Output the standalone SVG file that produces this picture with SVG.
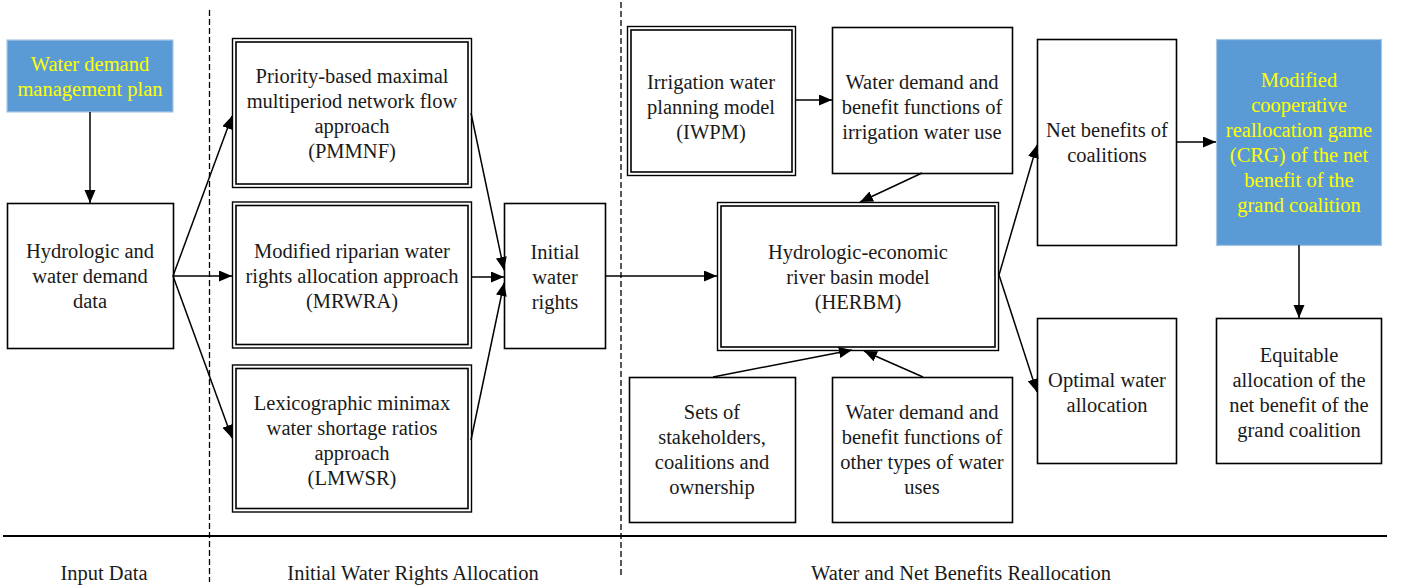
<svg xmlns="http://www.w3.org/2000/svg" width="1401" height="586" viewBox="0 0 1401 586">
<style>
.t{font-family:"Liberation Serif","Times New Roman",serif;font-size:20.5px;fill:#1a1a1a;text-anchor:middle}
.y{fill:#ffff00}
.b{fill:#fff;stroke:#000;stroke-width:1.6}
.d{fill:none;stroke:#000;stroke-width:1.4}
.blue{fill:#5b9bd5;stroke:#a9c6e6;stroke-width:1.2}
.c{stroke:#000;stroke-width:1.5;fill:none;marker-end:url(#ah)}
.dash{stroke:#000;stroke-width:1.3;stroke-dasharray:6,3}
</style>
<defs>
<marker id="ah" markerUnits="userSpaceOnUse" markerWidth="14" markerHeight="12" refX="13" refY="5.5" orient="auto">
<path d="M0,0 L13,5.5 L0,11 z" fill="#000"/>
</marker>
</defs>
<rect width="1401" height="586" fill="#fff"/>

<g id="separators">
<line class="dash" x1="209.5" y1="10" x2="209.5" y2="582"/>
<line class="dash" x1="621" y1="2" x2="621" y2="578"/>
<line x1="3" y1="536" x2="1387" y2="536" stroke="#000" stroke-width="2"/>
</g>

<g id="plan">
<rect class="blue" x="7" y="40" width="166" height="72"/>
<text class="t y" x="90" y="71">Water demand</text>
<text class="t y" x="90" y="96">management plan</text>
</g>

<g id="hydro">
<rect class="b" x="7.5" y="203.5" width="166" height="145"/>
<text class="t" x="90" y="258">Hydrologic and</text>
<text class="t" x="90" y="283">water demand</text>
<text class="t" x="90" y="308">data</text>
</g>

<g id="pmmnf">
<rect class="d" x="232.5" y="38.5" width="239" height="149"/>
<rect class="b" x="236" y="42" width="232" height="142"/>
<text class="t" x="352" y="83">Priority-based maximal</text>
<text class="t" x="352" y="108">multiperiod network flow</text>
<text class="t" x="352" y="133">approach</text>
<text class="t" x="352" y="158">(PMMNF)</text>
</g>

<g id="mrwra">
<rect class="d" x="232.5" y="202" width="239" height="146"/>
<rect class="b" x="236" y="205.5" width="232" height="139"/>
<text class="t" x="352" y="258">Modified riparian water</text>
<text class="t" x="352" y="283">rights allocation approach</text>
<text class="t" x="352" y="308">(MRWRA)</text>
</g>

<g id="lmwsr">
<rect class="d" x="232.5" y="365" width="239" height="147"/>
<rect class="b" x="236" y="368.5" width="232" height="140"/>
<text class="t" x="352" y="410">Lexicographic minimax</text>
<text class="t" x="352" y="435">water shortage ratios</text>
<text class="t" x="352" y="460">approach</text>
<text class="t" x="352" y="485">(LMWSR)</text>
</g>

<g id="initial">
<rect class="b" x="504.5" y="203.5" width="101" height="145"/>
<text class="t" x="555" y="259">Initial</text>
<text class="t" x="555" y="284">water</text>
<text class="t" x="555" y="309">rights</text>
</g>

<g id="iwpm">
<rect class="d" x="627.5" y="26.5" width="168" height="149"/>
<rect class="b" x="631" y="30" width="161" height="142"/>
<text class="t" x="711" y="89">Irrigation water</text>
<text class="t" x="711" y="114">planning model</text>
<text class="t" x="711" y="139">(IWPM)</text>
</g>

<g id="irrigation">
<rect class="b" x="832.5" y="27.5" width="180" height="146"/>
<text class="t" x="922" y="89">Water demand and</text>
<text class="t" x="922" y="114">benefit functions of</text>
<text class="t" x="922" y="139">irrigation water use</text>
</g>

<g id="herbm">
<rect class="d" x="717.5" y="202.5" width="281" height="148"/>
<rect class="b" x="721" y="206" width="274" height="141"/>
<text class="t" x="858" y="259">Hydrologic-economic</text>
<text class="t" x="858" y="284">river basin model</text>
<text class="t" x="858" y="309">(HERBM)</text>
</g>

<g id="sets">
<rect class="b" x="629.5" y="377.5" width="166" height="145"/>
<text class="t" x="712" y="419">Sets of</text>
<text class="t" x="712" y="444">stakeholders,</text>
<text class="t" x="712" y="469">coalitions and</text>
<text class="t" x="712" y="494">ownership</text>
</g>

<g id="other">
<rect class="b" x="832.5" y="377.5" width="180" height="145"/>
<text class="t" x="922" y="419">Water demand and</text>
<text class="t" x="922" y="444">benefit functions of</text>
<text class="t" x="922" y="469">other types of water</text>
<text class="t" x="922" y="494">uses</text>
</g>

<g id="net">
<rect class="b" x="1037.5" y="39.5" width="139" height="206"/>
<text class="t" x="1107" y="137">Net benefits of</text>
<text class="t" x="1107" y="162">coalitions</text>
</g>

<g id="crg">
<rect class="blue" x="1216.5" y="39.5" width="165" height="206"/>
<text class="t y" x="1299" y="87">Modified</text>
<text class="t y" x="1299" y="112">cooperative</text>
<text class="t y" x="1299" y="137">reallocation game</text>
<text class="t y" x="1299" y="162">(CRG) of the net</text>
<text class="t y" x="1299" y="187">benefit of the</text>
<text class="t y" x="1299" y="212">grand coalition</text>
</g>

<g id="optimal">
<rect class="b" x="1037.5" y="318.5" width="139" height="145"/>
<text class="t" x="1107" y="387">Optimal water</text>
<text class="t" x="1107" y="412">allocation</text>
</g>

<g id="equitable">
<rect class="b" x="1216.5" y="318.5" width="165" height="145"/>
<text class="t" x="1299" y="362">Equitable</text>
<text class="t" x="1299" y="387">allocation of the</text>
<text class="t" x="1299" y="412">net benefit of the</text>
<text class="t" x="1299" y="437">grand coalition</text>
</g>

<g id="connectors">
<line class="c" x1="90" y1="112" x2="90" y2="203"/>
<line class="c" x1="173" y1="276" x2="232" y2="116"/>
<line class="c" x1="173" y1="276" x2="232" y2="276"/>
<line class="c" x1="173" y1="276" x2="232" y2="438"/>
<line class="c" x1="471" y1="113" x2="504" y2="270"/>
<line class="c" x1="472" y1="277" x2="504" y2="277"/>
<line class="c" x1="471" y1="440" x2="504" y2="283"/>
<line class="c" x1="606" y1="276" x2="717" y2="276"/>
<line class="c" x1="796" y1="100" x2="832" y2="100"/>
<line class="c" x1="922" y1="173" x2="860" y2="202"/>
<line class="c" x1="713" y1="377" x2="852" y2="350"/>
<line class="c" x1="923" y1="377" x2="864" y2="351"/>
<line class="c" x1="999" y1="275" x2="1037" y2="145"/>
<line class="c" x1="999" y1="275" x2="1037" y2="392"/>
<line class="c" x1="1177" y1="142" x2="1216" y2="142"/>
<line class="c" x1="1299" y1="245" x2="1299" y2="318"/>
</g>

<g id="labels">
<text class="t" x="104" y="580">Input Data</text>
<text class="t" x="413" y="580">Initial Water Rights Allocation</text>
<text class="t" x="961" y="580">Water and Net Benefits Reallocation</text>
</g>
</svg>
